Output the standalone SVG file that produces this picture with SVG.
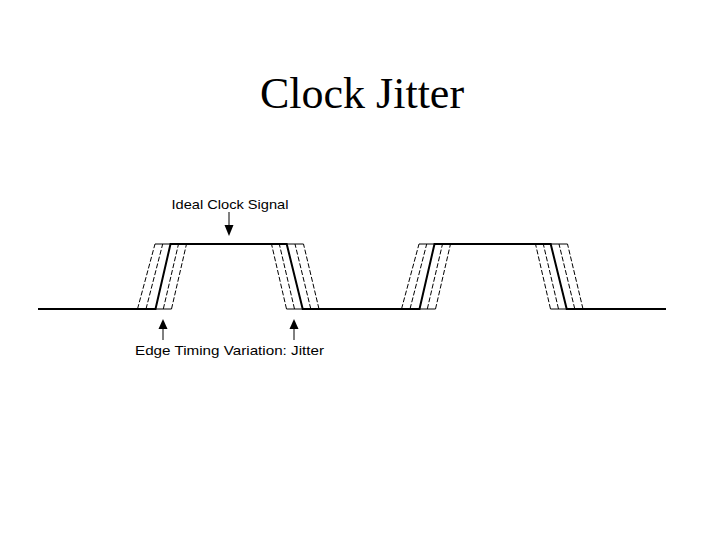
<svg xmlns="http://www.w3.org/2000/svg" width="720" height="540" viewBox="0 0 720 540">
<style>
.thick{stroke:#000;stroke-width:2;fill:none}
.thin{stroke:#000;stroke-width:1;fill:none}
.dash{stroke:#000;stroke-width:1;fill:none;stroke-dasharray:5 2}
.lbl{font-family:"Liberation Sans",Arial,sans-serif;font-size:13.5px;fill:#000}
.title{font-family:"Liberation Serif","Times New Roman",serif;font-size:44px;fill:#000}
</style>
<rect width="720" height="540" fill="#fff"/>
<text class="title" x="362" y="108" text-anchor="middle">Clock Jitter</text>
<g id="signal">
<line class="thin" x1="155" y1="244" x2="303.5" y2="244"/>
<line class="thin" x1="137.5" y1="309" x2="171.5" y2="309"/>
<line class="thin" x1="286.5" y1="309" x2="319" y2="309"/>
<line class="thin" x1="419" y1="244" x2="567.5" y2="244"/>
<line class="thin" x1="401.5" y1="309" x2="435.5" y2="309"/>
<line class="thin" x1="550.5" y1="309" x2="583" y2="309"/>
<line class="dash" x1="137.5" y1="309" x2="155" y2="244"/>
<line class="dash" x1="146" y1="309" x2="162.7" y2="244"/>
<line class="dash" x1="163.3" y1="309" x2="178.5" y2="244"/>
<line class="dash" x1="171.5" y1="309" x2="186.5" y2="244"/>
<line class="dash" x1="286.5" y1="309" x2="271.5" y2="244"/>
<line class="dash" x1="294.5" y1="309" x2="279.3" y2="244"/>
<line class="dash" x1="310.8" y1="309" x2="295" y2="244"/>
<line class="dash" x1="319" y1="309" x2="303.5" y2="244"/>
<line class="dash" x1="401.5" y1="309" x2="419" y2="244"/>
<line class="dash" x1="410" y1="309" x2="426.7" y2="244"/>
<line class="dash" x1="427.3" y1="309" x2="442.5" y2="244"/>
<line class="dash" x1="435.5" y1="309" x2="450.5" y2="244"/>
<line class="dash" x1="550.5" y1="309" x2="535.5" y2="244"/>
<line class="dash" x1="558.5" y1="309" x2="543.3" y2="244"/>
<line class="dash" x1="574.8" y1="309" x2="559" y2="244"/>
<line class="dash" x1="583" y1="309" x2="567.5" y2="244"/>
<polyline class="thick" points="38,309 155.5,309 170.5,244 286.7,244 302.7,309 419.5,309 434.5,244 550.7,244 566.7,309 666,309"/>
</g>
<g id="label-ideal">
<text class="lbl" x="171.5" y="208.5" textLength="117" lengthAdjust="spacingAndGlyphs">Ideal Clock Signal</text>
</g>
<g id="label-jitter">
<text class="lbl" x="135" y="354.5" textLength="189" lengthAdjust="spacingAndGlyphs">Edge Timing Variation: Jitter</text>
</g>
<g id="connectors">
<line class="thin" stroke-width="1.3" x1="229" y1="212" x2="229" y2="227"/>
<polygon points="224.5,225 233.5,225 229,236" fill="#000"/>
<line class="thin" stroke-width="1.3" x1="163" y1="327" x2="163" y2="340"/>
<polygon points="158.5,329 167.5,329 163,319" fill="#000"/>
<line class="thin" stroke-width="1.3" x1="294" y1="327" x2="294" y2="340"/>
<polygon points="289.5,329 298.5,329 294,319" fill="#000"/>
</g>
</svg>
